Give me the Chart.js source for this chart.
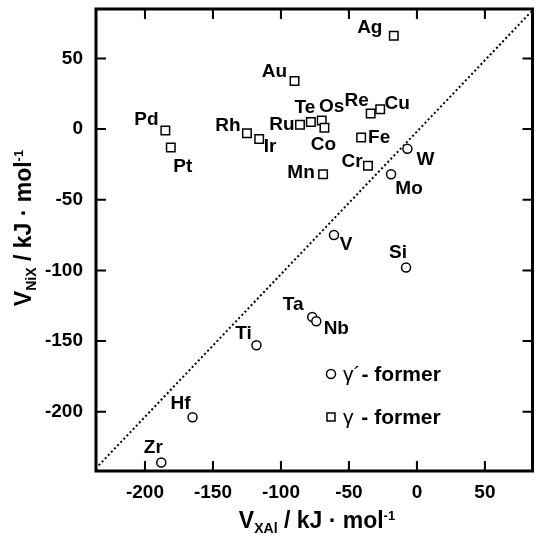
<!DOCTYPE html>
<html>
<head>
<meta charset="utf-8">
<script src="https://cdn.jsdelivr.net/npm/chart.js@4/dist/chart.umd.min.js"></script>
<style>
  html, body { margin: 0; padding: 0; background: #fff; }
  #wrap { width: 540px; height: 536px; }
</style>
</head>
<body>
<div id="wrap"><canvas id="chart"></canvas></div>
<script>
// γ'-formers (circles)
const primeNames = ['W', 'Mo', 'V', 'Si', 'Ta', 'Nb', 'Ti', 'Hf', 'Zr'];
const primeX = [-7, -19, -61, -8, -77, -74, -118, -165, -188];
const primeY = [-14, -32, -75, -98, -133, -136, -153, -204, -236];

// γ-formers (squares)
const gammaNames = ['Ag', 'Au', 'Pd', 'Pt', 'Rh', 'Ir', 'Ru', 'Te', 'Os', 'Co', 'Re', 'Cu', 'Fe', 'Cr', 'Mn'];
const gammaX = [-17, -90, -185, -181, -125, -116, -86, -78, -70, -68, -34, -27, -41, -36, -69];
const gammaY = [66, 34, -1, -13, -3, -7, 3, 5, 6, 1, 11, 14, -6, -26, -32];

// dotted y = x guide
const diagX = [-234, 84];
const diagY = [-238, 83];

const xTicks = [-200, -150, -100, -50, 0, 50];
const yTicks = [-200, -150, -100, -50, 0, 50];

// label placement relative to the marker (px)
const labelOffset = {
  Ag: [-24, -8], Au: [-20, -9], Pd: [-19, -11], Pt: [12, 19], Rh: [-19, -8],
  Ir: [11, 8], Ru: [-18, 0], Te: [-6, -14], Os: [10, -14], Co: [-1, 17],
  Re: [-14, -13], Cu: [17, -6], Fe: [18, 0], Cr: [-16, -4], Mn: [-22, -2],
  W: [18, 11], Mo: [18, 14], V: [12, 10], Si: [-8, -15], Ta: [-19, -12],
  Nb: [20, 8], Ti: [-13, -11], Hf: [-12, -14], Zr: [-8, -15]
};

const FONT = '"Liberation Sans", Arial, sans-serif';

function drawParts(ctx, parts) {
  // parts: [text, size, dy]
  let w = 0;
  parts.forEach(p => { ctx.font = `bold ${p[1]}px ${FONT}`; w += ctx.measureText(p[0]).width; });
  let x = -w / 2;
  parts.forEach(p => {
    ctx.font = `bold ${p[1]}px ${FONT}`;
    ctx.fillText(p[0], x, p[2]);
    x += ctx.measureText(p[0]).width;
  });
}

const decor = {
  id: 'decor',
  afterDatasetsDraw(chart) {
    const { ctx, chartArea: a, scales: { x, y } } = chart;
    ctx.save();
    ctx.strokeStyle = '#000';
    // frame
    ctx.lineWidth = 3;
    ctx.strokeRect(a.left, a.top, a.right - a.left, a.bottom - a.top);
    // inward ticks on all sides
    ctx.lineWidth = 2;
    const tl = 10;
    ctx.beginPath();
    xTicks.forEach(v => {
      const px = x.getPixelForValue(v);
      ctx.moveTo(px, a.bottom); ctx.lineTo(px, a.bottom - tl);
      ctx.moveTo(px, a.top); ctx.lineTo(px, a.top + tl);
    });
    yTicks.forEach(v => {
      const py = y.getPixelForValue(v);
      ctx.moveTo(a.left, py); ctx.lineTo(a.left + tl, py);
      ctx.moveTo(a.right, py); ctx.lineTo(a.right - tl, py);
    });
    ctx.stroke();

    // point labels
    ctx.fillStyle = '#000';
    ctx.font = `bold 19px ${FONT}`;
    ctx.textAlign = 'center';
    ctx.textBaseline = 'middle';
    [[0, primeNames], [1, gammaNames]].forEach(([di, names]) => {
      const meta = chart.getDatasetMeta(di);
      names.forEach((n, i) => {
        const el = meta.data[i];
        const o = labelOffset[n] || [0, 0];
        ctx.fillText(n, el.x + o[0], el.y + o[1]);
      });
    });

    // legend
    ctx.lineWidth = 1.5;
    ctx.beginPath();
    ctx.arc(331, 374, 4.5, 0, Math.PI * 2);
    ctx.stroke();
    ctx.strokeRect(327, 413, 8, 8);
    ctx.textAlign = 'left';
    ctx.font = `21px ${FONT}`;
    ctx.fillText('γ´', 343, 375);
    const w1 = ctx.measureText('γ´').width;
    ctx.font = `bold 21px ${FONT}`;
    ctx.fillText('- former', 343 + w1 + 1, 375);
    ctx.font = `21px ${FONT}`;
    ctx.fillText('γ', 343, 418);
    const w2 = ctx.measureText('γ ').width;
    ctx.font = `bold 21px ${FONT}`;
    ctx.fillText('- former', 343 + w2 + 2, 418);

    // axis titles
    ctx.textBaseline = 'alphabetic';
    ctx.save();
    ctx.translate(317, 528);
    drawParts(ctx, [['V', 23, 0], ['XAl', 14, 5], [' / kJ · mol', 23, 0], ['-1', 13, -8]]);
    ctx.restore();
    ctx.save();
    ctx.translate(31, 228);
    ctx.rotate(-Math.PI / 2);
    drawParts(ctx, [['V', 23, 0], ['NiX', 14, 5], [' / kJ · mol', 23, 0], ['-1', 13, -8]]);
    ctx.restore();
    ctx.restore();
  }
};

new Chart(document.getElementById('chart'), {
  type: 'scatter',
  data: {
    datasets: [
      {
        label: "γ'- former",
        data: primeX.map((v, i) => ({ x: v, y: primeY[i] })),
        pointStyle: 'circle',
        pointRadius: 4.5,
        borderWidth: 1.5,
        borderColor: '#000',
        backgroundColor: '#fff'
      },
      {
        label: 'γ - former',
        data: gammaX.map((v, i) => ({ x: v, y: gammaY[i] })),
        pointStyle: 'rect',
        pointRadius: 6,
        borderWidth: 1.5,
        borderColor: '#000',
        backgroundColor: '#fff'
      },
      {
        type: 'line',
        data: diagX.map((v, i) => ({ x: v, y: diagY[i] })),
        borderColor: '#000',
        borderWidth: 2,
        borderDash: [2, 2.5],
        pointRadius: 0,
        order: 5
      }
    ]
  },
  plugins: [decor],
  options: {
    responsive: true,
    maintainAspectRatio: false,
    animation: false,
    layout: { padding: { top: 9, right: 4, left: 0, bottom: 0 } },
    plugins: { legend: { display: false }, tooltip: { enabled: false } },
    scales: {
      x: {
        type: 'linear',
        min: -236, max: 85,
        afterBuildTicks: s => { s.ticks = xTicks.map(v => ({ value: v })); },
        afterFit: s => { s.height = 65; s.paddingLeft = 0; s.paddingRight = 0; },
        grid: { display: false, drawTicks: false },
        border: { display: false },
        ticks: { color: '#000', padding: 10, font: { family: FONT, size: 19, weight: 'bold' } }
      },
      y: {
        type: 'linear',
        min: -242, max: 85,
        afterBuildTicks: s => { s.ticks = yTicks.map(v => ({ value: v })); },
        afterFit: s => { s.width = 96; s.paddingTop = 0; s.paddingBottom = 0; },
        grid: { display: false, drawTicks: false },
        border: { display: false },
        ticks: { color: '#000', padding: 13, font: { family: FONT, size: 19, weight: 'bold' } }
      }
    }
  }
});
</script>
</body>
</html>
